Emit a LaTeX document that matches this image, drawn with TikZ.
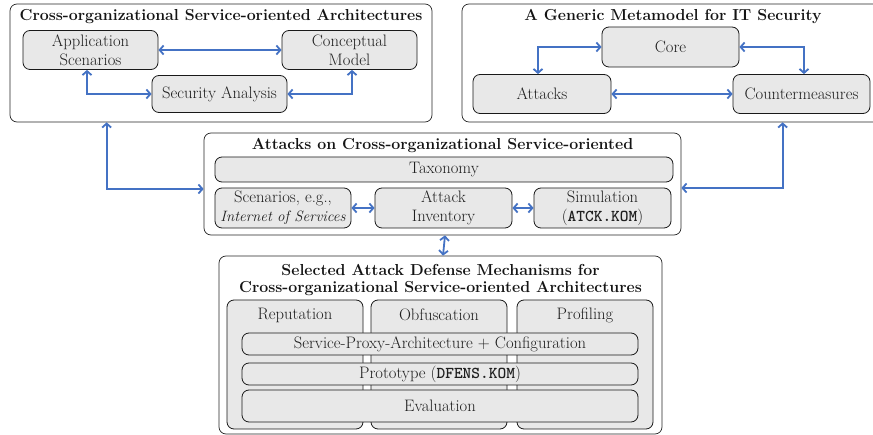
\documentclass[tikz,border=0pt]{standalone}
\usetikzlibrary{arrows.meta}
\definecolor{arrblue}{HTML}{4472C4}
\definecolor{boxfill}{HTML}{E8E8E8}
\tikzset{
  outerbox/.style={draw=black!85, line width=0.7pt, rounded corners=7pt, fill=white, inner sep=0pt},
  inbox/.style={draw=black!90, line width=0.8pt, rounded corners=7pt, fill=boxfill, inner sep=0pt, align=center,
    text=black!88, font=\fontsize{16.6}{19}\selectfont},
  lbl/.style={inner sep=0pt, text=black!88, font=\fontsize{16.6}{19}\selectfont},
  ttl/.style={font=\fontsize{15.9}{17.5}\selectfont\bfseries, text=black!92, align=center, inner sep=0pt},
  lnk/.style={draw=arrblue, line width=1.8pt, {Straight Barb[length=4pt,width=9pt]}-{Straight Barb[length=4pt,width=9pt]}},
}
\newcommand{\bx}[6]{% name, x1, y1, x2, y2, style
  \node[#6, minimum width={#4-#2}, minimum height={#5-#3}] (#1) at ({(#2+#4)/2},{(#3+#5)/2}) {};}
\begin{document}
\begin{tikzpicture}[x=1pt,y=-1pt]
\useasboundingbox (0,0) rectangle (873,435);
% Box 1
\bx{box1}{10}{4}{432}{122}{outerbox}
\node[ttl] (t1) at (221,17) {Cross-organizational Service-oriented Architectures};
\node[inbox, minimum width=135pt, minimum height=39pt] (app) at (90.5,50) {Application\\Scenarios};
\node[inbox, minimum width=135pt, minimum height=39pt] (concept) at (349.5,50) {Conceptual\\Model};
\node[inbox, minimum width=135pt, minimum height=37pt] (sec) at (219.5,94) {Security Analysis};
% Box 2
\bx{box2}{462}{4}{884}{122}{outerbox}
\node[ttl] (t2) at (673,17) {A Generic Metamodel for IT Security};
\node[inbox, minimum width=137pt, minimum height=40pt] (core) at (670.5,47) {Core};
\node[inbox, minimum width=138pt, minimum height=39pt] (attacks) at (542,94) {Attacks};
\node[inbox, minimum width=137pt, minimum height=39pt] (counter) at (801.5,94) {Countermeasures};
% Box 3
\bx{box3}{204}{133}{681}{235}{outerbox}
\node[ttl] (t3) at (442.5,146) {Attacks on Cross-organizational Service-oriented};
\node[inbox, minimum width=458pt, minimum height=25pt] (tax) at (444,169.5) {Taxonomy};
\node[inbox, minimum width=136pt, minimum height=40pt] (scen) at (283,208) {Scenarios, e.g.,\\{\fontsize{15}{19}\selectfont\itshape Internet of Services}};
\node[inbox, minimum width=137pt, minimum height=40pt] (inv) at (443.5,208) {Attack\\Inventory};
\node[inbox, minimum width=137pt, minimum height=40pt] (sim) at (602.5,208) {Simulation\\(\texttt{\bfseries ATCK.KOM})};
% Box 4
\bx{box4}{219}{256}{662}{434}{outerbox}
\node[ttl] (t4) at (440.5,280) {Selected Attack Defense Mechanisms for\\Cross-organizational Service-oriented Architectures};
\bx{rep}{227}{300}{363}{429}{inbox}
\bx{obf}{371}{300}{507}{429}{inbox}
\bx{prof}{517}{300}{653}{429}{inbox}
\node[lbl] (repl) at (295,315) {Reputation};
\node[lbl] (obfl) at (439,315) {Obfuscation};
\node[lbl] (profl) at (585,315) {Profiling};
\node[inbox, minimum width=396pt, minimum height=22pt] (spa) at (440,344) {Service-Proxy-Architecture + Configuration};
\node[inbox, minimum width=396pt, minimum height=22pt] (proto) at (440,374) {Prototype (\texttt{\bfseries DFENS.KOM})};
\node[inbox, minimum width=396pt, minimum height=32pt] (eval) at (440,406) {Evaluation};
% connectors
\draw[lnk] (app.east) -- (concept.west);
\draw[lnk] ([xshift=-3.5pt]app.south) |- (sec.west);
\draw[lnk] ([xshift=2.5pt]concept.south) |- (sec.east);
\draw[lnk] ([xshift=-4pt]attacks.north) |- (core.west);
\draw[lnk] ([xshift=2.5pt]counter.north) |- (core.east);
\draw[lnk] (attacks.east) -- (counter.west);
\draw[lnk] ([xshift=97pt]box1.south west) |- ([yshift=-5pt]box3.west);
\draw[lnk] ([xshift=321pt]box2.south west) |- ([yshift=-4pt]box3.east);
\draw[lnk] (scen.east) -- (inv.west);
\draw[lnk] (inv.east) -- (sim.west);
\draw[lnk] ([xshift=2.5pt]box3.south) -- ([xshift=2.5pt]box4.north);
\end{tikzpicture}
\end{document}
